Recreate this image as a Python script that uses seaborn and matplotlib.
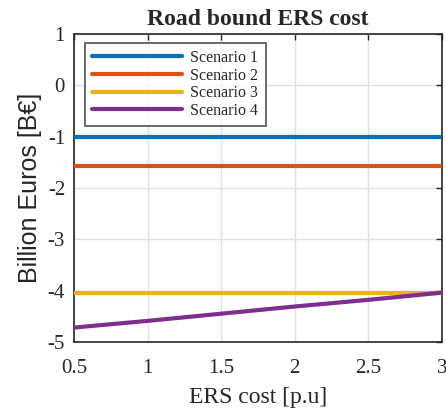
import pandas as pd
import matplotlib
matplotlib.use('Agg')
import matplotlib.pyplot as plt
import seaborn as sns

# ERS cost (p.u) and net cost per scenario (billion euros)
ers_cost = [0.5, 1.0, 1.5, 2.0, 2.5, 3.0]
scenario_1 = [-1.00, -1.00, -1.00, -1.00, -1.00, -1.00]
scenario_2 = [-1.57, -1.57, -1.57, -1.57, -1.57, -1.57]
scenario_3 = [-4.05, -4.05, -4.05, -4.05, -4.05, -4.05]
scenario_4 = [-4.72, -4.59, -4.45, -4.31, -4.18, -4.04]
scenario_names = ['Scenario 1', 'Scenario 2', 'Scenario 3', 'Scenario 4']
matlab_colors = ['#0072BD', '#D95319', '#EDB120', '#7E2F8E']


def road_bound_plot():
    rows = []
    for name, vals in zip(scenario_names, [scenario_1, scenario_2, scenario_3, scenario_4]):
        for x, y in zip(ers_cost, vals):
            rows.append({'ers': x, 'cost': y, 'scenario': name})
    df = pd.DataFrame(rows)

    sns.set_style('white')
    plt.rcParams['font.family'] = ['Liberation Serif', 'DejaVu Serif']

    fig = plt.figure(figsize=(4.46, 4.09), dpi=100)
    ax = fig.add_axes([0.166, 0.164, 0.825, 0.753])

    sns.lineplot(data=df, x='ers', y='cost', hue='scenario', palette=matlab_colors,
                 linewidth=3.0, ax=ax, zorder=3)

    ax.set_xlim(0.5, 3)
    ax.set_ylim(-5, 1)
    ax.set_xticks([0.5, 1, 1.5, 2, 2.5, 3])
    ax.set_xticklabels(['0.5', '1', '1.5', '2', '2.5', '3'])
    ax.set_yticks([1, 0, -1, -2, -3, -4, -5])
    ax.set_yticklabels(['1', '0', '-1', '-2', '-3', '-4', '-5'])
    ax.tick_params(direction='in', length=4, width=1, top=True, right=True,
                   labelsize=15, colors='#262626')
    ax.tick_params(axis='x', pad=12.5)
    ax.tick_params(axis='y', pad=6.5)
    ax.grid(True, color='#e0e0e0', linewidth=1)
    for s in ax.spines.values():
        s.set_color('#262626')
        s.set_linewidth(1.2)

    ax.set_title('Road bound ERS cost', fontsize=17, fontweight='bold', pad=6.5)
    ax.set_xlabel('ERS cost [p.u]', fontsize=17, color='#262626', labelpad=6)
    ax.set_ylabel('Billion Euros [B€]', fontsize=18, color='#262626',
                  family=['Liberation Sans', 'DejaVu Sans'], labelpad=4)

    leg = ax.legend(loc='upper left', bbox_to_anchor=(0.030, 0.971), borderaxespad=0,
                    fontsize=11.5, frameon=True, fancybox=False, handlelength=5.6,
                    handletextpad=0.55, labelspacing=0.1, borderpad=0.45)
    leg.get_frame().set_edgecolor('#262626')
    leg.get_frame().set_linewidth(1.2)
    for line in leg.get_lines():
        line.set_linewidth(3.0)
    leg.set_title(None)

    plt.savefig('out.png', dpi=100)


def main():
    road_bound_plot()


if __name__ == '__main__':
    main()
